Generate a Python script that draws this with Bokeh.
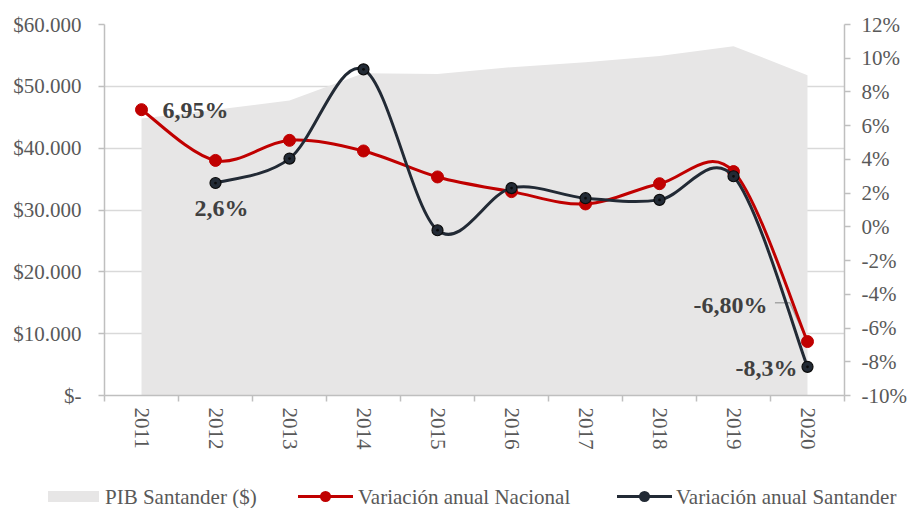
from bokeh.plotting import figure
from bokeh.layouts import column
from bokeh.models import Range1d, LinearAxis, FixedTicker, ColumnDataSource, Div
from bokeh.core.properties import value
from bokeh.embed import file_html
from bokeh.resources import INLINE

# ---------------- data ----------------
years = ["2011", "2012", "2013", "2014", "2015", "2016", "2017", "2018", "2019", "2020"]
pib_santander = [44800, 46200, 47700, 52100, 52000, 53100, 53900, 54900, 56500, 51800]
var_nacional = [6.95, 3.94, 5.13, 4.50, 2.96, 2.09, 1.36, 2.56, 3.28, -6.80]
var_santander = [None, 2.6, 4.05, 9.34, -0.2, 2.3, 1.7, 1.6, 3.0, -8.3]

left_ticks = [0, 10000, 20000, 30000, 40000, 50000, 60000]
left_tick_labels = ["$-", "$10.000", "$20.000", "$30.000", "$40.000", "$50.000", "$60.000"]
right_ticks = [-10, -8, -6, -4, -2, 0, 2, 4, 6, 8, 10, 12]
right_tick_labels = ["-10%", "-8%", "-6%", "-4%", "-2%", "0%", "2%", "4%", "6%", "8%", "10%", "12%"]

legend_labels = ["PIB Santander ($)", "Variación anual Nacional", "Variación anual Santander"]

# ---------------- styles ----------------
FONT = "Liberation Serif"
RED = "#C00000"
DARK = "#222A35"
AREA = "#E7E6E6"
AXIS = "#BFBFBF"
GRID = "#D9D9D9"
TICKTXT = "#595959"
LBLTXT = "#404040"
LEADER = "#A6A6A6"

idx = list(range(len(years)))


def smooth_segments(xs, ys):
    """Bezier control points (Catmull-Rom style smoothing, as in a smoothed line chart)."""
    n = len(xs)
    d = dict(x0=[], y0=[], x1=[], y1=[], cx0=[], cy0=[], cx1=[], cy1=[])
    for i in range(n - 1):
        xp, yp = (xs[i - 1], ys[i - 1]) if i > 0 else (xs[i], ys[i])
        xn, yn = (xs[i + 2], ys[i + 2]) if i + 2 < n else (xs[i + 1], ys[i + 1])
        d["x0"].append(xs[i]); d["y0"].append(ys[i])
        d["x1"].append(xs[i + 1]); d["y1"].append(ys[i + 1])
        d["cx0"].append(xs[i] + (xs[i + 1] - xp) / 6.0)
        d["cy0"].append(ys[i] + (ys[i + 1] - yp) / 6.0)
        d["cx1"].append(xs[i + 1] - (xn - xs[i]) / 6.0)
        d["cy1"].append(ys[i + 1] - (yn - ys[i]) / 6.0)
    return ColumnDataSource(d)


p = figure(width=909, height=470, output_backend="svg", toolbar_location=None,
           x_range=Range1d(-0.5, len(years) - 0.5),
           y_range=Range1d(left_ticks[0], left_ticks[-1]),
           min_border_left=104, min_border_top=24, min_border_bottom=75, min_border_right=63)
p.extra_y_ranges = {"pct": Range1d(right_ticks[0], right_ticks[-1])}
p.outline_line_color = None
p.background_fill_color = "white"

# area
p.varea(x=idx, y1=0, y2=pib_santander, fill_color=AREA)

# leader line of the "-6,80%" label (offsets relative to the 2020 Nacional point)
lead_dx = [-0.44, -0.24, 0.0]
lead_dy = [2.3, 2.3, 0.0]
p.line(x=[idx[-1] + d for d in lead_dx], y=[var_nacional[-1] + d for d in lead_dy],
       line_color=LEADER, line_width=1.5, y_range_name="pct")

# Nacional line
nac_src = smooth_segments(idx, var_nacional)
p.bezier(x0="x0", y0="y0", x1="x1", y1="y1", cx0="cx0", cy0="cy0", cx1="cx1", cy1="cy1",
         source=nac_src, line_color=RED, line_width=3, y_range_name="pct")
p.scatter(idx, var_nacional, marker="circle", size=12, fill_color=RED,
          line_color=RED, y_range_name="pct")

# Santander line
s_idx = [i for i, v in zip(idx, var_santander) if v is not None]
s_val = [v for v in var_santander if v is not None]
san_src = smooth_segments(s_idx, s_val)
p.bezier(x0="x0", y0="y0", x1="x1", y1="y1", cx0="cx0", cy0="cy0", cx1="cx1", cy1="cy1",
         source=san_src, line_color=DARK, line_width=3, y_range_name="pct")
p.scatter(s_idx, s_val, marker="circle_dot", size=11, fill_color=DARK,
          line_color="#0B0B0B", line_width=1.2, y_range_name="pct")

# data labels
lab_common = dict(text_font=value(FONT), text_font_style="bold", text_font_size="24px",
                  text_color=LBLTXT, text_baseline="middle", y_range_name="pct")
p.text(x=[idx[0]], y=[var_nacional[0]], text=["6,95%"], x_offset=21, text_align="left", **lab_common)
p.text(x=[s_idx[0]], y=[s_val[0]], text=["2,6%"], x_offset=6, y_offset=25, text_align="center", **lab_common)
p.text(x=[idx[-1]], y=[var_nacional[-1]], text=["-6,80%"], x_offset=-40, y_offset=-37, text_align="right", **lab_common)
p.text(x=[s_idx[-1]], y=[s_val[-1]], text=["-8,3%"], x_offset=-10, y_offset=1, text_align="right", **lab_common)

# x axis
xa = p.xaxis[0]
xa.ticker = FixedTicker(ticks=idx, minor_ticks=[i - 0.5 for i in range(len(years) + 1)])
xa.major_label_overrides = {i: y for i, y in zip(idx, years)}
xa.major_label_orientation = "vertical"
xa.major_tick_line_color = None
xa.minor_tick_line_color = AXIS
xa.minor_tick_line_width = 1.5
xa.minor_tick_out = 6
xa.minor_tick_in = 0
xa.axis_line_color = AXIS
xa.axis_line_width = 1.5
xa.major_label_text_font = FONT
xa.major_label_text_font_size = "21px"
xa.major_label_text_color = TICKTXT
xa.major_label_standoff = 6

# left axis
ya = p.yaxis[0]
ya.ticker = FixedTicker(ticks=left_ticks)
ya.major_label_overrides = {t: l for t, l in zip(left_ticks, left_tick_labels)}
ya.minor_tick_line_color = None
ya.major_tick_line_color = AXIS
ya.major_tick_line_width = 1.5
ya.major_tick_out = 6
ya.major_tick_in = 0
ya.axis_line_color = AXIS
ya.axis_line_width = 1.5
ya.major_label_text_font = FONT
ya.major_label_text_font_size = "21px"
ya.major_label_text_color = TICKTXT
ya.major_label_standoff = 17

# right axis
ra = LinearAxis(y_range_name="pct", ticker=FixedTicker(ticks=right_ticks))
ra.major_label_overrides = {t: l for t, l in zip(right_ticks, right_tick_labels)}
ra.minor_tick_line_color = None
ra.major_tick_line_color = AXIS
ra.major_tick_line_width = 1.5
ra.major_tick_out = 6
ra.major_tick_in = 0
ra.axis_line_color = AXIS
ra.axis_line_width = 1.5
ra.major_label_text_font = FONT
ra.major_label_text_font_size = "21px"
ra.major_label_text_color = TICKTXT
ra.major_label_standoff = 11
p.add_layout(ra, "right")

# grid
p.xgrid.visible = False
p.ygrid.ticker = FixedTicker(ticks=left_ticks)
p.ygrid.grid_line_color = GRID
p.ygrid.grid_line_width = 1.3

# ---------------- legend strip ----------------
item_left = [48, 298, 617]


def line_swatch(color):
    return ('<span style="position:absolute;left:0;top:0;width:55px;height:11px;">'
            f'<span style="position:absolute;left:0;top:4px;width:55px;height:3px;background:{color};"></span>'
            f'<span style="position:absolute;left:22px;top:0;width:11px;height:11px;border-radius:50%;background:{color};"></span>'
            '</span>')


swatches = [
    f'<span style="position:absolute;left:0;top:0;width:51px;height:11px;background:{AREA};"></span>',
    line_swatch(RED),
    line_swatch(DARK),
]
text_left = [57, 60, 59]
items_html = ""
for lft, sw, tl, lab in zip(item_left, swatches, text_left, legend_labels):
    items_html += (f'<div style="position:absolute;left:{lft}px;top:21px;height:11px;">{sw}'
                   f'<span style="position:absolute;left:{tl}px;top:-5px;height:22px;line-height:22px;white-space:nowrap;">{lab}</span></div>')

legend_html = (f'<div style="position:relative;width:909px;height:38px;font-family:\'{FONT}\';'
               f'font-size:21px;color:{TICKTXT};">{items_html}</div>')
lg = Div(text=legend_html, width=909, height=38, margin=(0, 0, 0, 0))

open("out.html", "w").write(file_html(column(p, lg, spacing=0), INLINE, "PIB Santander"))
